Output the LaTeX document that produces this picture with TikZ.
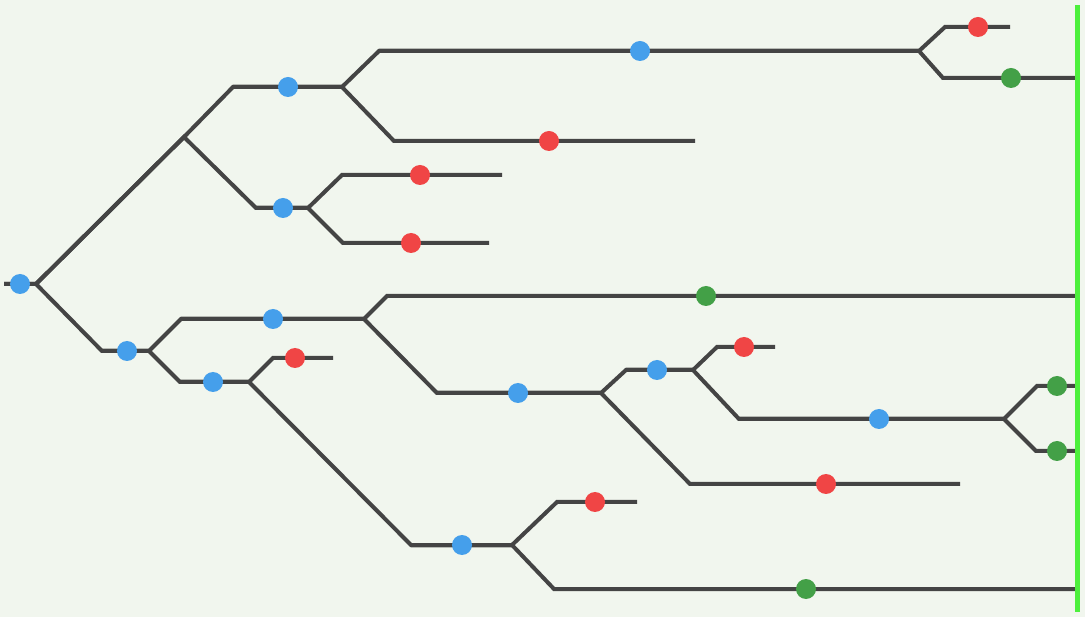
\documentclass[tikz,border=0pt]{standalone}
\usepackage{tikz}
\definecolor{bgc}{HTML}{F1F6EE}
\definecolor{linec}{HTML}{444444}
\definecolor{bluec}{HTML}{459FEB}
\definecolor{redc}{HTML}{F04545}
\definecolor{greenc}{HTML}{43A047}
\definecolor{barc}{HTML}{4DF03D}
\tikzstyle{ln}=[draw=linec, line width=4pt]
\tikzstyle{bv}=[circle, fill=bluec, inner sep=0pt, minimum size=20pt]
\tikzstyle{rv}=[circle, fill=redc, inner sep=0pt, minimum size=20pt]
\tikzstyle{gv}=[circle, fill=greenc, inner sep=0pt, minimum size=20pt]
\begin{document}
\begin{tikzpicture}
[x=1pt, y=-1pt]
 \fill[bgc] (0,0) rectangle (1085,617);
 \useasboundingbox (0,0) rectangle (1085,617);
 % root
 \coordinate (s0) at (4,284);
 \coordinate (f0) at (36,284);
 \coordinate (fu) at (184,137);
 % upper part
 \coordinate (buu) at (233,87);
 \coordinate (fuu) at (342,87);
 \coordinate (buuu) at (379,51);
 \coordinate (fuuu) at (919,51);
 \coordinate (buuuu) at (945,27);
 \coordinate (euuuu) at (1010,27);
 \coordinate (buuud) at (943,78);
 \coordinate (euuud) at (1075,78);
 \coordinate (buud) at (394,141);
 \coordinate (euud) at (695,141);
 \coordinate (bud) at (256,208);
 \coordinate (fud) at (308,208);
 \coordinate (budu) at (342,175);
 \coordinate (eudu) at (502,175);
 \coordinate (budd) at (343,243);
 \coordinate (eudd) at (489,243);
 % lower part
 \coordinate (bd) at (102,351);
 \coordinate (fd) at (149,351);
 \coordinate (bdu) at (181,319);
 \coordinate (fdu) at (364,319);
 \coordinate (bduu) at (387,296);
 \coordinate (eduu) at (1075,296);
 \coordinate (bdud) at (437,393);
 \coordinate (fdud) at (601,393);
 \coordinate (bdudu) at (626,370);
 \coordinate (fdudu) at (693,370);
 \coordinate (bduduu) at (717,347);
 \coordinate (eduduu) at (775,347);
 \coordinate (bdudud) at (739,419);
 \coordinate (fdudud) at (1004,419);
 \coordinate (bdududu) at (1037,386);
 \coordinate (edududu) at (1075,386);
 \coordinate (bdududd) at (1036,451);
 \coordinate (edududd) at (1075,451);
 \coordinate (bdudd) at (690,484);
 \coordinate (edudd) at (960,484);
 \coordinate (bdd) at (180,382);
 \coordinate (fdd) at (249,382);
 \coordinate (bddu) at (273,358);
 \coordinate (eddu) at (333,358);
 \coordinate (bddd) at (411,545);
 \coordinate (fddd) at (512,545);
 \coordinate (bdddu) at (557,502);
 \coordinate (edddu) at (637,502);
 \coordinate (bdddd) at (554,589);
 \coordinate (edddd) at (1075,589);
 % branches
 \draw[ln] (s0) -- (f0) -- (fu) -- (buu) -- (fuu);
 \draw[ln] (s0) -- (f0) -- (bd) -- (fd);
 \draw[ln] (f0) -- (fu) -- (bud) -- (fud);
 \draw[ln] (buu) -- (fuu) -- (buuu) -- (fuuu);
 \draw[ln] (buu) -- (fuu) -- (buud) -- (euud);
 \draw[ln] (buuu) -- (fuuu) -- (buuuu) -- (euuuu);
 \draw[ln] (buuu) -- (fuuu) -- (buuud) -- (euuud);
 \draw[ln] (bud) -- (fud) -- (budu) -- (eudu);
 \draw[ln] (bud) -- (fud) -- (budd) -- (eudd);
 \draw[ln] (bd) -- (fd) -- (bdu) -- (fdu);
 \draw[ln] (bd) -- (fd) -- (bdd) -- (fdd);
 \draw[ln] (bdu) -- (fdu) -- (bduu) -- (eduu);
 \draw[ln] (bdu) -- (fdu) -- (bdud) -- (fdud);
 \draw[ln] (bdud) -- (fdud) -- (bdudu) -- (fdudu);
 \draw[ln] (bdud) -- (fdud) -- (bdudd) -- (edudd);
 \draw[ln] (bdudu) -- (fdudu) -- (bduduu) -- (eduduu);
 \draw[ln] (bdudu) -- (fdudu) -- (bdudud) -- (fdudud);
 \draw[ln] (bdudud) -- (fdudud) -- (bdududu) -- (edududu);
 \draw[ln] (bdudud) -- (fdudud) -- (bdududd) -- (edududd);
 \draw[ln] (bdd) -- (fdd) -- (bddu) -- (eddu);
 \draw[ln] (bdd) -- (fdd) -- (bddd) -- (fddd);
 \draw[ln] (bddd) -- (fddd) -- (bdddu) -- (edddu);
 \draw[ln] (bddd) -- (fddd) -- (bdddd) -- (edddd);
 % end bar
 \fill[barc] (1075,5) rectangle (1080,612);
 % dots
 \node[bv] (v0) at (20,284) {};
 \node[bv] (vuu) at (288,87) {};
 \node[bv] (vuuu) at (640,51) {};
 \node[rv] (vuuuu) at (978,27) {};
 \node[gv] (vuuud) at (1011,78) {};
 \node[rv] (vuud) at (549,141) {};
 \node[bv] (vud) at (283,208) {};
 \node[rv] (vudu) at (420,175) {};
 \node[rv] (vudd) at (411,243) {};
 \node[bv] (vd) at (127,351) {};
 \node[bv] (vdu) at (273,319) {};
 \node[gv] (vduu) at (706,296) {};
 \node[bv] (vdud) at (518,393) {};
 \node[bv] (vdudu) at (657,370) {};
 \node[rv] (vduduu) at (744,347) {};
 \node[bv] (vdudud) at (879,419) {};
 \node[gv] (vdududu) at (1057,386) {};
 \node[gv] (vdududd) at (1057,451) {};
 \node[rv] (vdudd) at (826,484) {};
 \node[bv] (vdd) at (213,382) {};
 \node[rv] (vddu) at (295,358) {};
 \node[bv] (vddd) at (462,545) {};
 \node[rv] (vdddu) at (595,502) {};
 \node[gv] (vdddd) at (806,589) {};
\end{tikzpicture}
\end{document}
